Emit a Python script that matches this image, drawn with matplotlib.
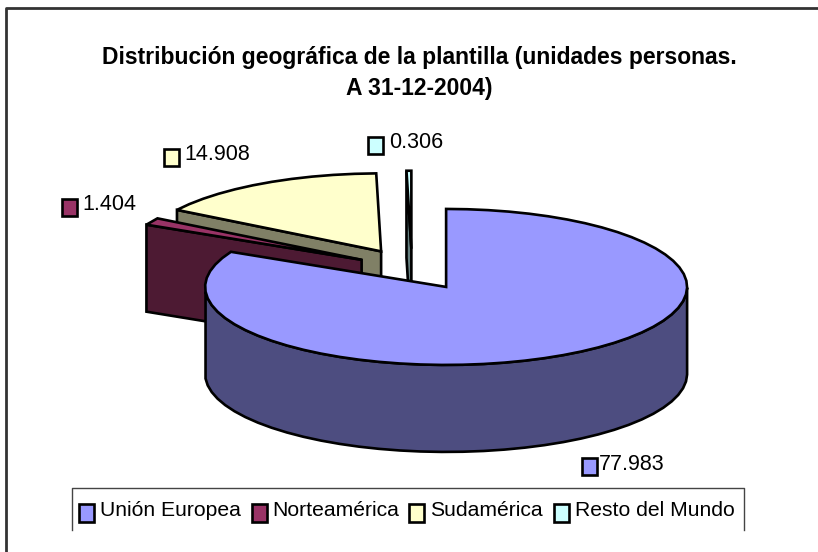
#!/usr/bin/env python
import numpy as np
from matplotlib import pyplot as plt
from matplotlib.patches import Polygon, Rectangle

W=818
H=552

categories=['Unión Europea', 'Norteamérica', 'Sudamérica', 'Resto del Mundo']
values=[77.983, 1.404, 14.908, 0.306]
value_labels=['77.983', '1.404', '14.908', '0.306']
explode=[0.27, 0.24, 0.26, 0.26]
top_colors=['#9999FF', '#993366', '#FFFFCC', '#CCFFFF']
side_colors=['#4D4D80', '#4D1A33', '#808066', '#668080']
title='Distribución geográfica de la plantilla (unidades personas.\nA 31-12-2004)'

# pie geometry in pixels, the picture is an excel 3d pie
CX=412.0
CY=269.0
RX=241.0
RY=78.0
DEPTH=87.0
LW=1.9
STEP=np.radians(5.0)

plt.rcParams['font.family']=['Liberation Sans', 'DejaVu Sans']

fig=plt.figure(figsize=(W/100.0, H/100.0), dpi=100)
ax=fig.add_axes([0, 0, 1, 1])
ax.set_xlim(0, W)
ax.set_ylim(H, 0)
ax.axis('off')

def rim(theta):
    # theta is clockwise from the top, in radians
    return RX*np.sin(theta), -RY*np.cos(theta)

def draw_slice(a0, a1, k, top, side, z):
    ox, oy=rim((a0+a1)/2.0)
    ax0=CX+k*ox
    ay0=CY+k*oy
    T=np.linspace(a0, a1, max(2, int((a1-a0)/STEP)+1))
    X, Y=rim(T)
    X=ax0+X
    Y=ay0+Y
    # outer wall, only the part facing us
    vis=(np.cos(T)<=0)
    if vis.any():
        xs=X[vis]
        ys=Y[vis]
        wall=np.column_stack([np.r_[xs, xs[::-1]], np.r_[ys, ys[::-1]+DEPTH]])
        ax.add_patch(Polygon(wall, closed=True, fc=side, ec='k', lw=LW, zorder=z))
    # the cut face on the start edge is seen for the slices at the back left
    if np.cos(a0)>0 and a0>np.pi:
        ex, ey=rim(a0)
        face=[(ax0, ay0), (ax0+ex, ay0+ey), (ax0+ex, ay0+ey+DEPTH), (ax0, ay0+DEPTH)]
        ax.add_patch(Polygon(face, closed=True, fc=side, ec='k', lw=LW, zorder=z))
    pts=np.column_stack([np.r_[ax0, X], np.r_[ay0, Y]])
    ax.add_patch(Polygon(pts, closed=True, fc=top, ec='k', lw=LW, joinstyle='miter', zorder=z+0.1))

fracs=np.array(values)/np.sum(values)
edges=np.r_[0, np.cumsum(fracs)]*2*np.pi
order=[3, 2, 1, 0]
for z, i in enumerate(order):
    draw_slice(edges[i], edges[i+1], explode[i], top_colors[i], side_colors[i], 2+z)

# frame, only top and left reach the picture
ax.plot([6, 6, W], [H, 8, 8], color='#333333', lw=2.0, zorder=1, solid_capstyle='butt')

ax.text(419, 73, title, ha='center', va='center', fontsize=16.5, fontweight='bold',
        linespacing=1.45, color='k')

def swatch(x, y, color, w=15, h=17):
    ax.add_patch(Rectangle((x, y-h/2.0), w, h, fc=color, ec='k', lw=1.9, zorder=10))

label_x=[582, 62, 164, 368]
label_y=[466, 207, 157, 145]
label_tx=[599, 82, 184, 389]
for i in range(len(values)):
    swatch(label_x[i], label_y[i], top_colors[i])
    ax.text(label_tx[i], label_y[i]-2, value_labels[i], ha='left', va='center', fontsize=15.5, color='k', zorder=10)

# legend box has an open bottom
ax.plot([72, 72, 744, 744], [530, 488, 488, 530], color='#444444', lw=1.0, zorder=1)
leg_sw=[79, 252, 409, 554]
leg_tx=[100, 272, 430, 575]
for i in range(len(categories)):
    swatch(leg_sw[i], 513, top_colors[i], h=18)
    ax.text(leg_tx[i], 511, categories[i], ha='left', va='center', fontsize=15.2, color='k', zorder=10)

fig.savefig('out.png', dpi=100)
